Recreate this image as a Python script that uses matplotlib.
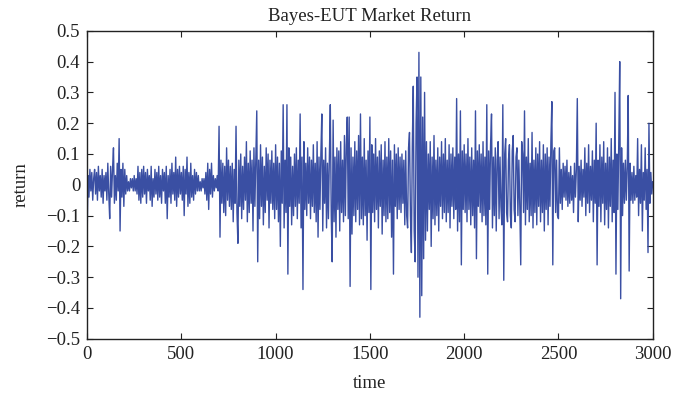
import numpy as np
import matplotlib
matplotlib.use("Agg")
import matplotlib.pyplot as plt
from matplotlib.ticker import FuncFormatter

# returns, one value every 5 time steps (t = 0 .. 3000)
returns = [
    -0.18, 0.03, -0.04, 0.05, -0.02, 0.04, -0.05, 0.02, 0.05, -0.03, 0.04, -0.05, 0.06, -0.02, 0.03, -0.04, 0.05, -0.06, 0.03, -0.02,
    0.04, -0.05, 0.07, -0.03, -0.11, 0.06, -0.04, 0.05, 0.12, -0.06, 0.03, -0.05, 0.07, -0.02, 0.15, -0.15, 0.05, -0.04, 0.07, -0.07,
    0.05, -0.03, 0.03, -0.02, 0.01, -0.02, 0.02, -0.01, 0.02, -0.02, 0.03, -0.02, 0.02, -0.03, 0.06, -0.05, 0.04, -0.06, 0.05, -0.04,
    0.06, -0.03, 0.04, -0.06, 0.05, -0.02, 0.03, -0.05, 0.06, -0.07, 0.02, -0.04, 0.05, -0.03, 0.04, -0.05, 0.06, -0.04, 0.03, -0.06,
    0.05, -0.02, 0.04, -0.06, 0.06, -0.11, 0.03, -0.04, 0.05, -0.06, 0.07, -0.03, 0.04, -0.05, 0.09, -0.07, 0.05, -0.04, 0.06, -0.03,
    0.04, -0.05, 0.06, -0.10, 0.05, -0.03, 0.09, -0.07, 0.04, -0.06, 0.07, -0.04, 0.03, -0.05, 0.05, -0.03, 0.04, -0.02, 0.03, -0.02,
    0.01, -0.02, 0.02, -0.01, 0.02, -0.03, 0.04, -0.05, 0.07, -0.08, 0.05, -0.03, 0.07, -0.04, 0.03, -0.02, 0.02, -0.01, 0.03, -0.02,
    0.19, -0.17, 0.08, -0.06, 0.07, -0.09, 0.06, -0.10, 0.12, -0.05, 0.08, -0.07, 0.06, -0.08, 0.07, -0.12, 0.05, -0.06, 0.19, -0.09,
    -0.19, 0.08, -0.07, 0.10, -0.11, 0.06, -0.08, 0.09, -0.05, 0.14, -0.12, 0.07, -0.09, 0.11, -0.06, 0.08, -0.15, 0.12, -0.07, 0.09,
    0.24, -0.25, 0.08, -0.11, 0.13, -0.07, 0.09, -0.13, 0.06, -0.09, 0.12, -0.05, 0.10, -0.14, 0.08, -0.06, 0.11, -0.08, 0.07, -0.11,
    0.13, -0.08, 0.09, -0.12, 0.07, -0.20, 0.11, -0.06, 0.26, -0.14, 0.08, -0.09, 0.26, -0.29, 0.12, -0.07, 0.09, -0.13, 0.06, -0.10,
    0.10, -0.07, 0.12, -0.11, 0.08, -0.06, 0.23, -0.14, 0.09, -0.34, 0.14, -0.08, 0.07, -0.10, 0.12, -0.06, 0.09, -0.11, 0.08, -0.07,
    0.13, -0.09, 0.07, -0.12, 0.14, -0.17, 0.09, -0.08, 0.10, 0.23, -0.15, 0.08, -0.06, 0.12, -0.14, 0.07, -0.11, 0.09, 0.26, -0.10,
    -0.25, 0.21, -0.12, 0.09, -0.17, 0.12, -0.08, 0.11, -0.15, 0.14, -0.09, 0.08, -0.12, 0.16, -0.10, 0.13, 0.22, -0.11, 0.22, -0.33,
    0.12, -0.16, 0.09, -0.10, 0.14, -0.12, 0.11, -0.08, 0.16, -0.13, 0.23, -0.11, 0.09, -0.13, 0.15, -0.10, 0.08, -0.18, 0.11, -0.09,
    0.22, -0.34, 0.13, -0.09, 0.10, -0.12, 0.15, -0.08, 0.09, -0.14, 0.11, -0.07, 0.13, -0.16, 0.08, -0.10, 0.14, -0.12, 0.09, -0.11,
    0.15, -0.09, 0.11, -0.17, 0.08, -0.29, 0.13, -0.07, 0.10, -0.11, 0.12, -0.08, 0.09, -0.09, 0.10, -0.06, 0.08, -0.13, 0.11, -0.10,
    -0.14, 0.12, 0.17, -0.10, -0.22, 0.13, 0.32, -0.15, -0.25, 0.20, 0.35, -0.30, 0.43, -0.43, 0.35, -0.36, 0.22, -0.24, 0.30, -0.18,
    0.14, -0.15, 0.10, -0.08, 0.14, -0.20, 0.09, -0.11, 0.16, -0.13, 0.08, -0.10, 0.12, -0.15, 0.09, -0.07, 0.14, -0.11, 0.10, -0.09,
    0.15, -0.12, 0.08, -0.09, 0.13, -0.14, 0.10, -0.07, 0.12, -0.11, 0.09, -0.08, 0.28, -0.15, 0.10, -0.12, 0.24, -0.26, 0.11, -0.08,
    0.13, -0.09, 0.10, -0.12, 0.15, -0.08, 0.09, -0.13, 0.12, -0.10, 0.08, -0.14, 0.24, -0.24, 0.11, -0.07, 0.13, -0.09, 0.10, -0.12,
    0.14, -0.10, 0.09, -0.13, 0.26, -0.29, 0.11, -0.08, 0.13, 0.23, -0.14, 0.09, -0.10, 0.12, -0.15, 0.08, 0.14, -0.11, 0.09, -0.07,
    -0.13, 0.26, -0.31, 0.10, 0.15, -0.09, -0.12, 0.08, 0.13, -0.10, -0.14, 0.11, 0.16, -0.08, -0.12, 0.09, 0.12, -0.10, 0.08, -0.07,
    -0.26, 0.14, 0.10, -0.09, 0.24, -0.13, 0.09, -0.08, 0.15, -0.12, 0.07, -0.10, 0.17, -0.14, 0.08, -0.09, 0.12, -0.13, 0.10, -0.07,
    0.14, -0.12, 0.08, -0.09, 0.13, -0.15, 0.10, -0.08, 0.12, -0.13, 0.09, -0.07, 0.14, 0.27, -0.26, 0.11, 0.12, -0.09, 0.08, -0.10,
    -0.11, 0.12, -0.06, 0.05, -0.08, 0.07, -0.04, 0.06, -0.05, 0.08, -0.07, 0.04, -0.06, 0.06, -0.05, 0.03, -0.09, 0.07, -0.04, 0.05,
    0.28, -0.12, 0.06, -0.05, 0.08, -0.07, 0.05, -0.04, 0.12, -0.10, 0.07, -0.06, 0.13, -0.09, 0.06, -0.05, 0.11, -0.12, 0.08, -0.06,
    0.20, -0.26, 0.08, -0.07, 0.13, -0.12, 0.09, -0.06, 0.14, -0.13, 0.07, -0.08, 0.12, -0.14, 0.09, -0.07, 0.15, -0.12, 0.08, -0.09,
    0.30, -0.29, 0.10, -0.08, 0.14, 0.40, -0.37, 0.12, -0.10, 0.07, -0.06, 0.08, -0.05, 0.06, 0.29, -0.28, 0.07, -0.05, 0.04, -0.06,
    0.06, -0.05, 0.03, -0.04, 0.15, -0.10, 0.05, -0.06, 0.13, -0.15, 0.04, -0.05, 0.12, -0.08, 0.05, -0.22, 0.20, -0.06, 0.04, -0.03,
    0.01,
]
time = np.arange(len(returns)) * 5

x_ticks = [0, 500, 1000, 1500, 2000, 2500, 3000]
y_ticks = [-0.5, -0.4, -0.3, -0.2, -0.1, 0, 0.1, 0.2, 0.3, 0.4, 0.5]

plt.rcParams['font.family'] = ['Liberation Serif', 'DejaVu Serif']

fig = plt.figure(figsize=(6.75, 4), dpi=100)
ax = fig.add_axes([0.129, 0.153, 0.838, 0.77])

ax.plot(time, returns, color='#3a4fa3', linewidth=1.0)

ax.set_xlim(0, 3000)
ax.set_ylim(-0.5, 0.5)
ax.set_xticks(x_ticks)
ax.set_yticks(y_ticks)
ax.yaxis.set_major_formatter(FuncFormatter(lambda v, p: f"{v:g}".replace("-", "\u2212")))
ax.tick_params(direction='in', top=True, right=True, length=4, width=0.8,
               labelsize=13.5, colors='#222222', pad=5)
for s in ax.spines.values():
    s.set_linewidth(1.0)
    s.set_color('#222222')

ax.set_title("Bayes-EUT Market Return", fontsize=13.5, color='#222222', pad=7)
ax.set_xlabel("time", fontsize=13.5, color='#222222', labelpad=9)
ax.set_ylabel("return", fontsize=13.5, color='#222222', labelpad=12)

fig.savefig("out.png", dpi=100)
